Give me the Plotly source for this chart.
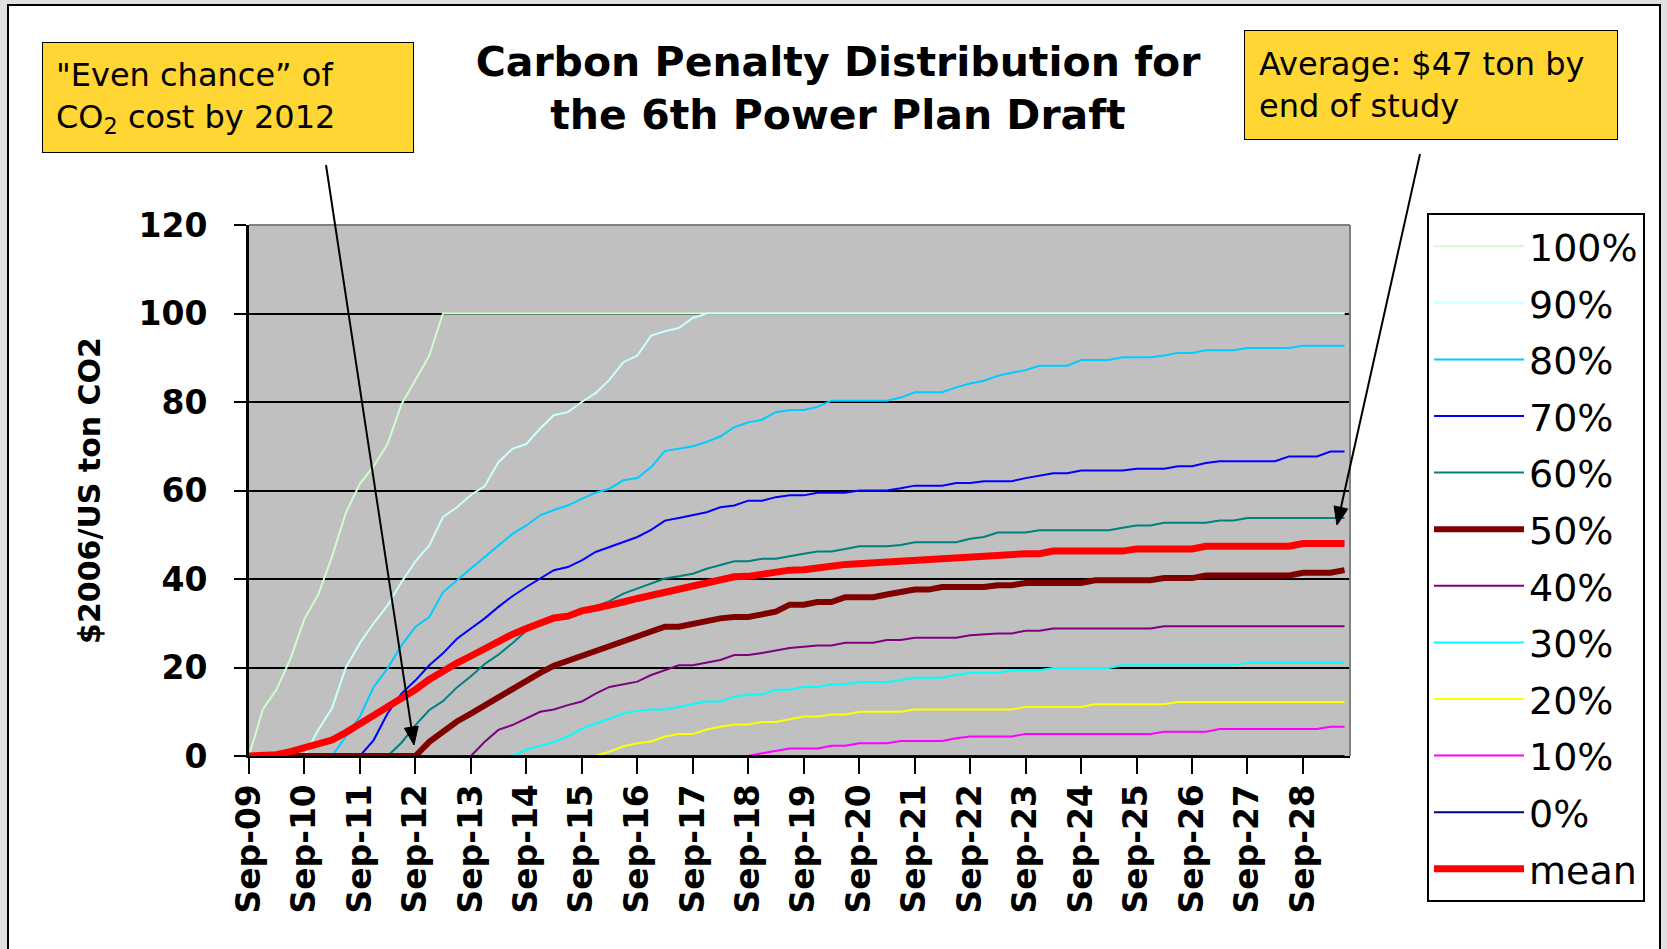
import math
import pandas as pd
import plotly.graph_objects as go

# ---- data -------------------------------------------------------------
# quarterly penalty path, Sep-2009 .. Jun-2029 (80 quarters)
quarters = pd.date_range("2009-09-01", periods=80, freq="3MS")
tick_dates = pd.date_range("2009-09-01", periods=20, freq="12MS")
tick_labels = ["Sep-09", "Sep-10", "Sep-11", "Sep-12", "Sep-13", "Sep-14", "Sep-15",
               "Sep-16", "Sep-17", "Sep-18", "Sep-19", "Sep-20", "Sep-21", "Sep-22",
               "Sep-23", "Sep-24", "Sep-25", "Sep-26", "Sep-27", "Sep-28"]
y_ticks = [0, 20, 40, 60, 80, 100, 120]

p100 = [0, 10.5, 15, 22, 31, 36.5, 45, 55, 61.5, 65.5,
        70.5, 79.5, 85, 90.5, 100, 100, 100, 100, 100, 100,
        100, 100, 100, 100, 100, 100, 100, 100, 100, 100,
        100, 100, 100, 100, 100, 100, 100, 100, 100, 100,
        100, 100, 100, 100, 100, 100, 100, 100, 100, 100,
        100, 100, 100, 100, 100, 100, 100, 100, 100, 100,
        100, 100, 100, 100, 100, 100, 100, 100, 100, 100,
        100, 100, 100, 100, 100, 100, 100, 100, 100, 100]
p90 = [0, 0, 0, 0, 0, 5.9, 10.8, 20, 25.5, 30,
       34, 39.3, 44, 47.6, 54, 56.2, 59, 61, 66.4, 69.4,
       70.5, 74, 77, 77.7, 80, 82, 85, 89, 90.5, 95,
       96, 96.7, 99, 100, 100, 100, 100, 100, 100, 100,
       100, 100, 100, 100, 100, 100, 100, 100, 100, 100,
       100, 100, 100, 100, 100, 100, 100, 100, 100, 100,
       100, 100, 100, 100, 100, 100, 100, 100, 100, 100,
       100, 100, 100, 100, 100, 100, 100, 100, 100, 100]
p80 = [0, 0, 0, 0, 0, 0, 0, 4.4, 8.9, 15.6,
       19.8, 25, 29.2, 31.4, 37, 39.7, 42.3, 45, 47.4, 50.2,
       52.1, 54.4, 55.6, 56.6, 58.1, 59.5, 60.4, 62.3, 62.8, 65.3,
       68.9, 69.4, 70, 71, 72.2, 74.3, 75.4, 76, 77.7, 78.2,
       78.2, 78.9, 80.3, 80.3, 80.3, 80.3, 80.3, 81, 82.2, 82.2,
       82.2, 83.3, 84.2, 84.8, 85.9, 86.6, 87.2, 88.2, 88.2, 88.2,
       89.5, 89.5, 89.5, 90.1, 90.1, 90.1, 90.5, 91.1, 91.1, 91.7,
       91.7, 91.7, 92.2, 92.2, 92.2, 92.2, 92.7, 92.7, 92.7, 92.7]
p70 = [0, 0, 0, 0, 0, 0, 0, 0, 0, 3.6,
       9.6, 14.1, 17.1, 20.5, 23.2, 26.5, 28.8, 31.1, 33.7, 36.1,
       38.2, 40.1, 42, 42.7, 44.2, 46.1, 47.2, 48.3, 49.5, 51.1,
       53.2, 53.8, 54.4, 55.1, 56.2, 56.6, 57.7, 57.7, 58.5, 58.9,
       58.9, 59.5, 59.5, 59.5, 60, 60, 60, 60.5, 61.1, 61.1,
       61.1, 61.7, 61.7, 62.1, 62.1, 62.1, 62.8, 63.4, 63.9, 63.9,
       64.5, 64.5, 64.5, 64.5, 64.9, 64.9, 64.9, 65.5, 65.5, 66.2,
       66.6, 66.6, 66.6, 66.6, 66.6, 67.7, 67.7, 67.7, 68.8, 68.8]
p60 = [0, 0, 0, 0, 0, 0, 0, 0, 0, 0,
       0, 3, 7, 10.4, 12.4, 15.5, 18, 20.8, 22.9, 25.5,
       28.3, 29.8, 30.9, 31.7, 32.4, 33.8, 35, 36.7, 37.8, 38.9,
       40.1, 40.6, 41.2, 42.3, 43.1, 44, 44, 44.6, 44.6, 45.2,
       45.7, 46.2, 46.2, 46.8, 47.4, 47.4, 47.4, 47.7, 48.3, 48.3,
       48.3, 48.3, 49.1, 49.5, 50.5, 50.5, 50.5, 51, 51, 51,
       51, 51, 51, 51.6, 52.1, 52.1, 52.7, 52.7, 52.7, 52.7,
       53.2, 53.2, 53.8, 53.8, 53.8, 53.8, 53.8, 53.8, 53.8, 53.8]
p50 = [0, 0, 0, 0, 0, 0, 0, 0, 0, 0,
       0, 0, 0, 3.2, 5.5, 7.8, 9.6, 11.5, 13.4, 15.3,
       17.2, 18.8, 20.4, 21.5, 22.8, 23.8, 25, 26.2, 27.3, 28.4,
       29.2, 29.2, 29.9, 30.5, 31.1, 31.4, 31.4, 32, 32.6, 34.2,
       34.2, 34.8, 34.8, 35.9, 35.9, 35.9, 36.5, 37.1, 37.6, 37.6,
       38.2, 38.2, 38.2, 38.2, 38.6, 38.6, 39.1, 39.1, 39.1, 39.1,
       39.1, 39.7, 39.7, 39.7, 39.7, 39.7, 40.2, 40.2, 40.2, 40.8,
       40.8, 40.8, 40.8, 40.8, 40.8, 40.8, 41.4, 41.4, 41.4, 42]
p40 = [0, 0, 0, 0, 0, 0, 0, 0, 0, 0,
       0, 0, 0, 0, 0, 0, 0, 3.2, 5.9, 7,
       8.5, 10, 10.5, 11.5, 12.3, 14.1, 15.6, 16.2, 16.8, 18.3,
       19.4, 20.5, 20.5, 21.1, 21.7, 22.8, 22.8, 23.3, 23.9, 24.4,
       24.7, 25, 25, 25.6, 25.6, 25.6, 26.2, 26.2, 26.7, 26.7,
       26.7, 26.7, 27.3, 27.5, 27.7, 27.7, 28.3, 28.3, 28.8, 28.8,
       28.8, 28.8, 28.8, 28.8, 28.8, 28.8, 29.3, 29.3, 29.3, 29.3,
       29.3, 29.3, 29.3, 29.3, 29.3, 29.3, 29.3, 29.3, 29.3, 29.3]
p30 = [0, 0, 0, 0, 0, 0, 0, 0, 0, 0,
       0, 0, 0, 0, 0, 0, 0, 0, 0, 0,
       1.4, 2.3, 3.2, 4.4, 6.2, 7.3, 8.5, 9.6, 10.2, 10.5,
       10.5, 11.1, 11.7, 12.3, 12.3, 13.4, 13.9, 13.9, 15, 15,
       15.6, 15.6, 16.2, 16.2, 16.7, 16.7, 16.7, 17.1, 17.7, 17.7,
       17.7, 18.3, 18.8, 18.8, 18.8, 19.4, 19.4, 19.4, 19.9, 19.9,
       19.9, 19.9, 19.9, 20.5, 20.5, 20.5, 20.5, 20.5, 20.5, 20.5,
       20.5, 20.5, 21.1, 21.1, 21.1, 21.1, 21.1, 21.1, 21.1, 21.1]
p20 = [0, 0, 0, 0, 0, 0, 0, 0, 0, 0,
       0, 0, 0, 0, 0, 0, 0, 0, 0, 0,
       0, 0, 0, 0, 0, 0, 1, 2.2, 2.9, 3.3,
       4.4, 5, 5, 6, 6.6, 7.1, 7.1, 7.7, 7.7, 8.3,
       8.9, 8.9, 9.4, 9.4, 10, 10, 10, 10, 10.5, 10.5,
       10.5, 10.5, 10.5, 10.5, 10.5, 10.5, 11.1, 11.1, 11.1, 11.1,
       11.1, 11.7, 11.7, 11.7, 11.7, 11.7, 11.7, 12.2, 12.2, 12.2,
       12.2, 12.2, 12.2, 12.2, 12.2, 12.2, 12.2, 12.2, 12.2, 12.2]
p10 = [0, 0, 0, 0, 0, 0, 0, 0, 0, 0,
       0, 0, 0, 0, 0, 0, 0, 0, 0, 0,
       0, 0, 0, 0, 0, 0, 0, 0, 0, 0,
       0, 0, 0, 0, 0, 0, 0, 0.6, 1.1, 1.7,
       1.7, 1.7, 2.3, 2.3, 2.9, 2.9, 2.9, 3.4, 3.4, 3.4,
       3.4, 4, 4.4, 4.4, 4.4, 4.4, 5, 5, 5, 5,
       5, 5, 5, 5, 5, 5, 5.5, 5.5, 5.5, 5.5,
       6.1, 6.1, 6.1, 6.1, 6.1, 6.1, 6.1, 6.1, 6.6, 6.6]
p0 = [0, 0, 0, 0, 0, 0, 0, 0, 0, 0,
      0, 0, 0, 0, 0, 0, 0, 0, 0, 0,
      0, 0, 0, 0, 0, 0, 0, 0, 0, 0,
      0, 0, 0, 0, 0, 0, 0, 0, 0, 0,
      0, 0, 0, 0, 0, 0, 0, 0, 0, 0,
      0, 0, 0, 0, 0, 0, 0, 0, 0, 0,
      0, 0, 0, 0, 0, 0, 0, 0, 0, 0,
      0, 0, 0, 0, 0, 0, 0, 0, 0, 0]
mean = [0, 0, 0.3, 1, 1.8, 2.6, 3.6, 5.3, 7.2, 9,
        11, 12.8, 15, 17.3, 19.3, 21, 22.6, 24.3, 25.8, 27.5,
        28.8, 30, 31.2, 31.6, 32.8, 33.4, 33.9, 34.8, 35.6, 36.3,
        37, 37.6, 38.7, 39.3, 39.8, 40.5, 40.6, 41.2, 41.7, 42,
        42.1, 42.7, 42.9, 43.3, 43.5, 43.5, 43.8, 44, 44.4, 44.4,
        44.6, 45, 45, 45.1, 45.3, 45.7, 45.7, 45.7, 46.3, 46.3,
        46.3, 46.3, 46.3, 46.3, 46.8, 46.8, 46.8, 46.8, 46.8, 47.4,
        47.4, 47.4, 47.4, 47.4, 47.4, 47.4, 48, 48, 48, 48]

series_names = ["100%", "90%", "80%", "70%", "60%", "50%",
                "40%", "30%", "20%", "10%", "0%", "mean"]
series_values = [p100, p90, p80, p70, p60, p50, p40, p30, p20, p10, p0, mean]

# ---- styling ----------------------------------------------------------
line_colors = ["#CCFFCC", "#CCFFFF", "#00CCFF", "#0000FF", "#008080", "#800000",
               "#800080", "#00FFFF", "#FFFF00", "#FF00FF", "#000080", "#FF0000"]
line_widths = [2, 2, 2, 2, 2, 6, 2, 2, 2, 2, 2, 7]

W, H = 1667, 949
ML, MR, MT, MB = 249, 317, 225, 193
PW, PH = W - ML - MR, H - MT - MB


def px_x(px):
    """horizontal pixel position -> paper fraction"""
    return (px - ML) / PW


def px_y(py):
    """vertical pixel position (from top) -> paper fraction"""
    return (H - MB - py) / PH


def pointer(tail, head, head_len=18, half_w=7):
    """shaft + filled head of a call-out pointer, in paper coordinates"""
    (tx, ty), (hx, hy) = tail, head
    dx, dy = hx - tx, hy - ty
    n = math.hypot(dx, dy)
    ux, uy = dx / n, dy / n
    bx, by = hx - ux * head_len, hy - uy * head_len
    nx, ny = -uy, ux
    shaft = dict(type="line", xref="paper", yref="paper", layer="above",
                 x0=px_x(tx), y0=px_y(ty), x1=px_x(bx), y1=px_y(by),
                 line=dict(color="black", width=2))
    tip = dict(type="path", xref="paper", yref="paper", layer="above",
               path=(f"M {px_x(hx)} {px_y(hy)} "
                     f"L {px_x(bx + nx * half_w)} {px_y(by + ny * half_w)} "
                     f"L {px_x(bx - nx * half_w)} {px_y(by - ny * half_w)} Z"),
               fillcolor="black", line=dict(color="black", width=1))
    return [shaft, tip]


fig = go.Figure()
for name, vals, color, width in zip(series_names, series_values, line_colors, line_widths):
    fig.add_trace(go.Scatter(
        x=quarters, y=vals, name=name, mode="lines", legendgroup=name,
        line=dict(color=color, width=width),
    ))

bold = dict(family="DejaVu Sans", color="black", weight="bold")

shapes = [
    # white card with black frame
    dict(type="rect", xref="paper", yref="paper", layer="below",
         x0=px_x(8), x1=px_x(1660), y0=px_y(975), y1=px_y(5),
         fillcolor="white", line=dict(color="black", width=2)),
    # grey plot area
    dict(type="rect", xref="paper", yref="paper", layer="below",
         x0=0, x1=1, y0=0, y1=1, fillcolor="#C0C0C0", line=dict(width=0)),
    # grey top / right plot border
    dict(type="line", xref="paper", yref="paper", layer="above",
         x0=0, x1=1, y0=1, y1=1, line=dict(color="#808080", width=2)),
    dict(type="line", xref="paper", yref="paper", layer="above",
         x0=1, x1=1, y0=0, y1=1, line=dict(color="#808080", width=2)),
]
shapes += pointer((326, 165), (414, 745))
shapes += pointer((1420, 154), (1337, 525))

fig.update_layout(
    width=W, height=H,
    margin=dict(l=ML, r=MR, t=MT, b=MB, pad=0),
    paper_bgcolor="#E0E0E0",
    plot_bgcolor="rgba(0,0,0,0)",
    title=dict(
        text="Carbon Penalty Distribution for<br>the 6th Power Plan Draft",
        x=838 / W, xref="container", xanchor="center",
        y=1 - 76 / H, yref="container", yanchor="top",
        font=dict(size=41, **bold),
    ),
    legend=dict(
        x=1427 / W, xref="container", xanchor="left",
        y=1 - 213 / H, yref="container", yanchor="top",
        bgcolor="white", bordercolor="black", borderwidth=2,
        font=dict(family="DejaVu Sans", size=38, color="black"),
        tracegroupgap=4.2, itemwidth=90, maxheight=730,
    ),
    xaxis=dict(
        type="date",
        range=[quarters[0], quarters[-1] + pd.Timedelta(days=36)],
        tickvals=tick_dates, ticktext=tick_labels, tickangle=-90,
        ticks="outside", ticklen=16, tickwidth=2, tickcolor="black",
        showline=True, linecolor="black", linewidth=2,
        showgrid=False, zeroline=False,
        tickfont=dict(size=33, **bold), ticklabelstandoff=-3,
    ),
    yaxis=dict(
        range=[0, 120], tickvals=y_ticks,
        ticks="outside", ticklen=12, tickwidth=2, tickcolor="black",
        showline=True, linecolor="black", linewidth=3,
        showgrid=True, gridcolor="black", gridwidth=2, zeroline=False,
        tickfont=dict(size=33, **bold), ticklabelstandoff=20,
        title=dict(text="$2006/US ton CO2", font=dict(size=30, **bold), standoff=30),
    ),
    shapes=shapes,
)

box_font = dict(family="DejaVu Sans", size=32, color="black")
fig.add_annotation(
    text="\"Even chance\u201d of<br>CO<sub>2</sub> cost by 2012",
    xref="paper", yref="paper", x=px_x(42), y=px_y(42),
    xanchor="left", yanchor="top", showarrow=False, align="left",
    width=344, bgcolor="#FFD633", bordercolor="black", borderwidth=1, borderpad=13,
    font=box_font,
)
fig.add_annotation(
    text="Average: $47 ton by<br>end of study",
    xref="paper", yref="paper", x=px_x(1244), y=px_y(30),
    xanchor="left", yanchor="top", showarrow=False, align="left",
    width=344, bgcolor="#FFD633", bordercolor="black", borderwidth=1, borderpad=14,
    font=box_font,
)

fig.write_html("out.html")
